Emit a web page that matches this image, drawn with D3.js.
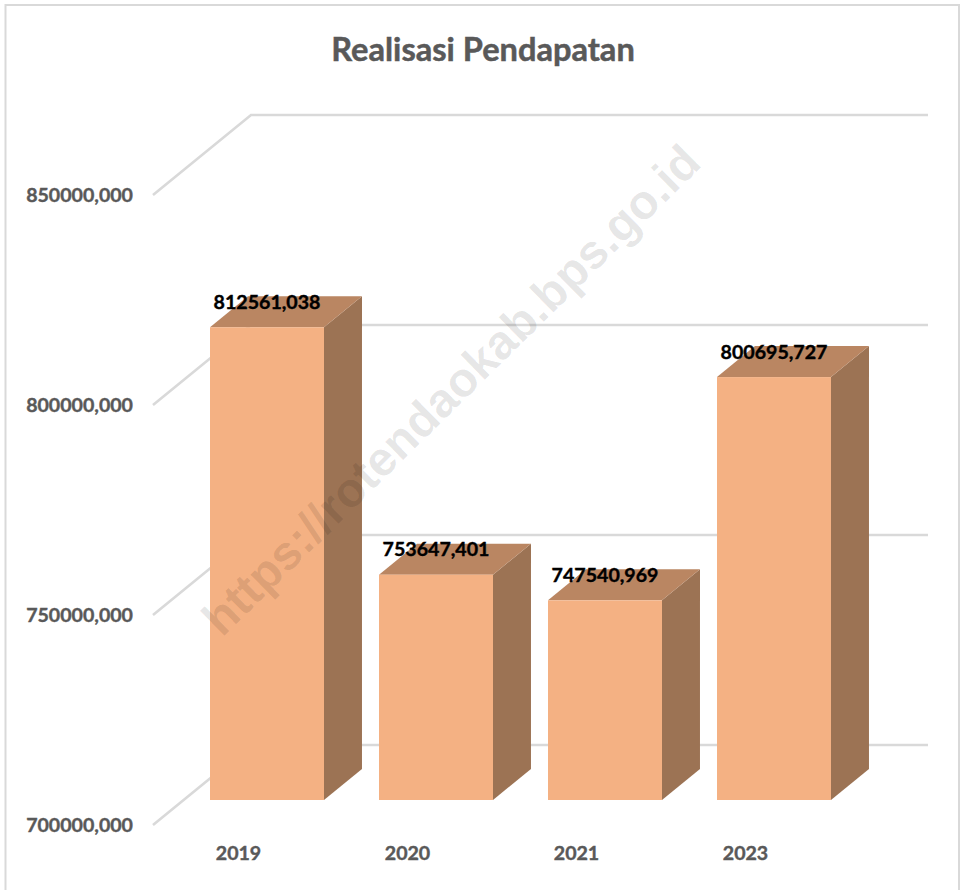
<!DOCTYPE html>
<html>
<head>
<meta charset="utf-8">
<script src="https://cdn.jsdelivr.net/npm/d3@7"></script>
<style>
  html, body { margin: 0; padding: 0; background: #fff; }
  svg { display: block; }
  text { font-family: Lato, sans-serif; font-weight: 700; }
</style>
</head>
<body>
<script>
  const years = ['2019', '2020', '2021', '2023'];
  const values = [812561.038, 753647.401, 747540.969, 800695.727];
  const yTicks = [700000, 750000, 800000, 850000];

  const width = 964, height = 890;
  const svg = d3.select('body').append('svg').attr('width', width).attr('height', height);

  // comma as decimal mark, no thousands grouping
  const fmt = d3.formatLocale({decimal: ',', thousands: '.', grouping: [3], currency: ['', '']}).format('.3f');

  const y = d3.scaleLinear().domain([700000, 850000]).range([825, 195]);
  const x = d3.scaleBand().domain(years).range([182.5, 858.5])
    .paddingInner(55 / 169).paddingOuter(27.5 / 169);

  // depth offsets of the fake 3d box
  const slant = 98 / 80;
  const wallDy = 80, barFrontDy = 25, barDepthDy = 31;
  const barDx = barDepthDy * slant;

  svg.append('rect')
    .attr('x', 5.5).attr('y', 5).attr('width', 953.5).attr('height', 900)
    .attr('fill', '#fff').attr('stroke', '#d9d9d9').attr('stroke-width', 2);

  svg.append('text')
    .attr('x', 483).attr('y', 61).attr('text-anchor', 'middle')
    .attr('font-size', 32.6).attr('fill', '#595959')
    .attr('stroke', '#595959').attr('stroke-width', 0.5)
    .text('Realisasi Pendapatan');

  // walls
  const gridLine = d3.line();
  svg.append('g').selectAll('path').data(yTicks).join('path')
    .attr('d', d => gridLine([
      [153, y(d)],
      [153 + wallDy * slant, y(d) - wallDy],
      [928, y(d) - wallDy]
    ]))
    .attr('fill', 'none').attr('stroke', '#d9d9d9').attr('stroke-width', 2.6);

  // axes
  const yAxis = svg.append('g').attr('transform', 'translate(133,0)')
    .call(d3.axisLeft(y).tickValues(yTicks).tickFormat(fmt).tickSize(0).tickPadding(0));
  const xAxis = svg.append('g').attr('transform', 'translate(-28.5,840)')
    .call(d3.axisBottom(x).tickSize(0).tickPadding(0));
  [yAxis, xAxis].forEach(a => {
    a.select('.domain').remove();
    a.selectAll('text')
      .attr('fill', '#595959').attr('font-size', 19.6)
      .attr('stroke', '#595959').attr('stroke-width', 0.4)
      .style('font-family', 'Lato, sans-serif').style('font-weight', 700);
  });
  xAxis.selectAll('text').attr('dy', '1.0em');

  // bars
  const rows = years.map((year, i) => ({year, value: values[i]}));
  const bars = svg.append('g').selectAll('g').data(rows).join('g');
  const poly = d3.line();
  const front = d => y(d.value) - barFrontDy;
  const base = y(700000) - barFrontDy;

  bars.append('path')
    .attr('d', d => {
      const r = x(d.year) + x.bandwidth();
      return poly([[r, front(d)], [r + barDx, front(d) - barDepthDy], [r + barDx, base - barDepthDy], [r, base]]) + 'Z';
    })
    .attr('fill', '#9c7354');
  bars.append('path')
    .attr('d', d => {
      const l = x(d.year), r = l + x.bandwidth();
      return poly([[l, front(d)], [l + barDx, front(d) - barDepthDy], [r + barDx, front(d) - barDepthDy], [r, front(d)]]) + 'Z';
    })
    .attr('fill', '#ba8662');
  bars.append('rect')
    .attr('x', d => x(d.year))
    .attr('y', front)
    .attr('width', x.bandwidth())
    .attr('height', d => base - front(d))
    .attr('fill', '#f4b183');

  bars.append('text')
    .attr('x', d => x(d.year) + x.bandwidth() / 2)
    .attr('y', d => front(d) - 18.5)
    .attr('text-anchor', 'middle')
    .attr('font-size', 19.6).attr('fill', '#000')
    .attr('stroke', '#000').attr('stroke-width', 0.4)
    .text(d => fmt(d.value));

  // watermark
  svg.append('text')
    .attr('transform', 'translate(222,638) rotate(-44.5)')
    .style('font-family', '"Liberation Sans", sans-serif')
    .attr('font-size', 48).attr('fill', '#000').attr('fill-opacity', 0.1)
    .text('https://rotendaokab.bps.go.id');
</script>
</body>
</html>
